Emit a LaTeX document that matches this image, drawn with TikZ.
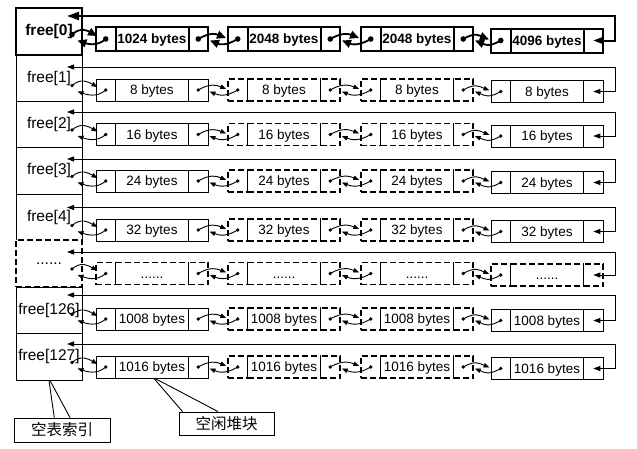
\documentclass[tikz,border=0pt]{standalone}
\usepackage{fontspec}
\setmainfont{Liberation Sans}
\newfontfamily\cjkfont{Noto Sans CJK SC}
\usetikzlibrary{arrows.meta}
\newcommand\sixdots{......}
\tikzset{
  cellA/.style={draw, rectangle, inner sep=0pt, line width=2pt, minimum height=24pt, text height=10pt, text depth=1pt, font=\bfseries\fontsize{13.5}{16}\selectfont},
  cellN/.style={draw, rectangle, inner sep=0pt, line width=0.9pt, minimum height=22pt, text height=10pt, text depth=1pt, font=\fontsize{13.5}{16}\selectfont},
  cellD/.style={draw, rectangle, inner sep=0pt, line width=1.4pt, dash pattern=on 6pt off 3pt, minimum height=22pt, text height=10pt, text depth=1pt, font=\fontsize{13.5}{16}\selectfont},
  colA/.style={draw, rectangle, inner sep=0pt, line width=2pt, minimum width=66pt, font=\bfseries\fontsize{15.5}{18}\selectfont},
  colN/.style={draw, rectangle, inner sep=0pt, line width=0.9pt, minimum width=66pt, font=\fontsize{15.5}{18}\selectfont},
  colD/.style={draw, rectangle, inner sep=0pt, line width=1.4pt, dash pattern=on 6pt off 3pt, fill=white, minimum width=66pt, font=\fontsize{15.5}{18}\selectfont},
  lnkA/.style={line width=1.8pt, -{Triangle[length=9pt,width=8pt]}},
  lnkN/.style={line width=0.9pt, -{Triangle[length=6pt,width=4.5pt]}},
  fbA/.style={line width=2pt, {Triangle[length=12pt,width=8pt]}-{Triangle[length=10pt,width=7pt]}},
  fbN/.style={line width=0.9pt, {Triangle[length=7pt,width=5pt]}-{Triangle[length=7pt,width=5pt]}},
  dotA/.style={radius=2.8pt},
  dotN/.style={radius=1.8pt},
  tagbox/.style={draw, rectangle, line width=0.9pt, inner sep=0pt, font=\cjkfont\fontsize{15.5}{18}\selectfont},
  tagline/.style={line width=0.9pt},
}
\begin{document}
\begin{tikzpicture}[x=1pt,y=-1pt]
\useasboundingbox (0,0) rectangle (637,448);
\foreach \n/\top/\bot/\F/\C/\lab/\ta/\tb/\tc/\td/\ko/\ki/\kc/\kl in {
  0/8/55/16/39/free[0]/1024 bytes/2048 bytes/2048 bytes/4096 bytes/A/A/A/A,
  1/55/101/67/90/free[1]/8 bytes/8 bytes/8 bytes/8 bytes/N/D/N/N,
  2/101/147.5/112/134.5/free[2]/16 bytes/16 bytes/16 bytes/16 bytes/N/D/N/N,
  3/147.5/194/159/181/free[3]/24 bytes/24 bytes/24 bytes/24 bytes/N/D/N/N,
  4/194/240/207.5/230/free[4]/32 bytes/32 bytes/32 bytes/32 bytes/N/D/N/N,
  5/240/287/252/273.5/\sixdots/\sixdots/\sixdots/\sixdots/\sixdots/D/D/D/N,
  6/287/333/295/319/free[126]/1008 bytes/1008 bytes/1008 bytes/1008 bytes/N/D/N/N,
  7/333/380/344/367/free[127]/1016 bytes/1016 bytes/1016 bytes/1016 bytes/N/D/N/N%
}{
  \pgfmathsetmacro\ym{(\top+\bot)/2}
  \pgfmathsetmacro\hh{\bot-\top}
  \node[col\kc, minimum height=\hh pt] (col\n) at (49,\ym) {\lab};
  \foreach \jj/\x/\bt/\bk in {1/96/\ta/\ko, 2/228/\tb/\ki, 3/361/\tc/\ki, 4/491/\td/\ko}{
    \pgfmathsetmacro\yy{\C+(\jj==4)*1.5}
    \node[cell\bk, minimum width=19.5pt] (b\n-\jj-L) at (\x+9.75,\yy) {};
    \node[cell\bk, minimum width=73pt] (b\n-\jj-M) at (\x+56,\yy) {\bt};
    \node[cell\bk, minimum width=19.5pt] (b\n-\jj-R) at (\x+102.25,\yy) {};
    \fill[dot\kl] (b\n-\jj-L.center) circle;
    \ifnum\jj<4
      \fill[dot\kl] (b\n-\jj-R.center) circle;
    \fi
    \ifnum\jj=1
      \coordinate (ls\n) at (72,\C-4.5);
      \coordinate (le\n) at (77.5,\C+1.5);
      \fill[dot\kl] (ls\n) circle;
      \draw[lnk\kl] (ls\n) .. controls +(9,-8) and +(-9,-5) .. ([shift={(2,-3)}]b\n-1-L.west);
      \draw[lnk\kl] (b\n-1-L.center) .. controls +(-9,8) and +(9,3) .. (le\n);
    \else
      \pgfmathtruncatemacro\pj{\jj-1}
      \draw[lnk\kl] (b\n-\pj-R.center) .. controls +(12,-7) and +(-10,-4) .. ([shift={(-1,-1)}]b\n-\jj-L.west);
      \draw[lnk\kl] (b\n-\jj-L.center) .. controls +(-12,7) and +(10,4) .. ([shift={(1,1.5)}]b\n-\pj-R.east);
    \fi
  }
  \coordinate (fb\n) at (67,\F);
  \draw[fb\kl] (fb\n) -| ([xshift=22pt]b\n-4-R.center) -- (b\n-4-R.center);
}
\node[tagbox, minimum width=96pt, minimum height=24pt] (tag1) at (62,430) {空表索引};
\node[tagbox, minimum width=95pt, minimum height=23pt] (tag2) at (226.5,423.5) {空闲堆块};
\draw[tagline] (col7.south) -- ([xshift=-7.7pt]tag1.north);
\draw[tagline] ([xshift=1pt]col7.south) -- ([xshift=8pt]tag1.north);
\draw[tagline] ([xshift=2pt]b7-1-M.south) -- ([xshift=-44pt]tag2.north);
\draw[tagline] ([xshift=3pt]b7-1-M.south) -- ([xshift=-8.5pt]tag2.north);
\end{tikzpicture}
\end{document}
